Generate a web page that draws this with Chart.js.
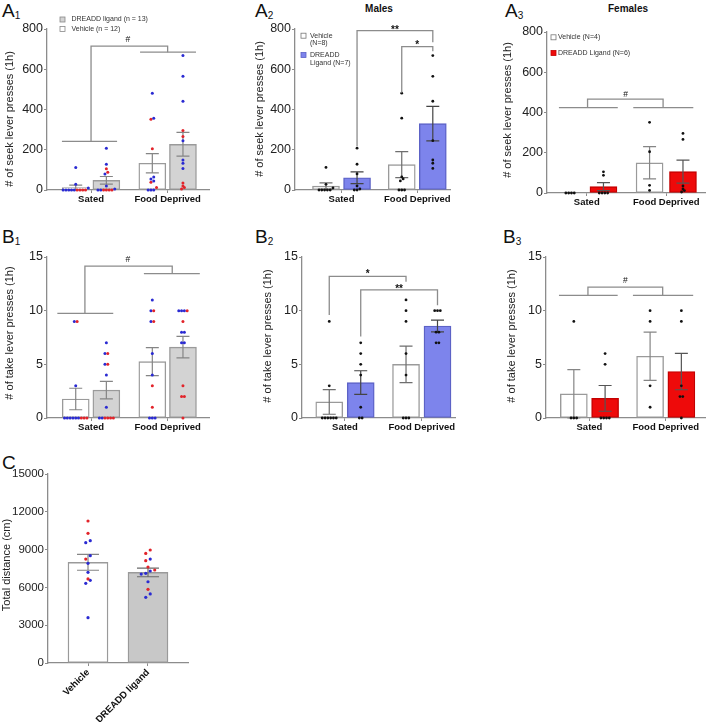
<!DOCTYPE html>
<html><head><meta charset="utf-8">
<script src="https://cdn.jsdelivr.net/npm/chart.js@4.4.0/dist/chart.umd.min.js"></script>
<style>
html,body{margin:0;padding:0;background:#fff;}
body{width:709px;height:722px;position:relative;overflow:hidden;font-family:"Liberation Sans",Arial,sans-serif;color:#111;}
.pane{position:absolute;}
.plabel{position:absolute;font-size:19px;line-height:18px;white-space:nowrap;}
.plabel .sb{font-size:10px;vertical-align:-2px;}
.ptitle{position:absolute;font-size:10px;line-height:10px;font-weight:bold;transform:translateX(-50%);white-space:nowrap;}
</style></head><body>
<div class="plabel" style="left:2px;top:2px">A<span class="sb">1</span></div>
<div class="plabel" style="left:255px;top:2px">A<span class="sb">2</span></div>
<div class="plabel" style="left:505px;top:2px">A<span class="sb">3</span></div>
<div class="plabel" style="left:2px;top:228px">B<span class="sb">1</span></div>
<div class="plabel" style="left:255px;top:228px">B<span class="sb">2</span></div>
<div class="plabel" style="left:503px;top:228px">B<span class="sb">3</span></div>
<div class="plabel" style="left:2px;top:454px">C</div>
<div class="ptitle" style="left:379px;top:4px">Males</div>
<div class="ptitle" style="left:628px;top:4px">Females</div>
<script>
// ---------------- DATA ----------------
const categories = ['Sated', 'Food Deprived'];
const cLabels = ['Vehicle', 'DREADD ligand'];

// Seek lever presses (1h), per animal (M = male, F = female)
const seekVehSatedM = [112, 28, 10, 0, 0, 0, 0, 0];
const seekVehSatedF = [0, 0, 0, 0];
const seekDrSatedM  = [208, 128, 80, 20, 5, 0, 0];
const seekDrSatedF  = [105, 88, 0, 0, 0, 0];
const seekVehFdM    = [481, 357, 65, 55, 45, 0, 0, 0];
const seekVehFdF    = [351, 205, 38, 13];
const seekDrFdM     = [668, 565, 441, 245, 149, 133, 107];
const seekDrFdF     = [296, 266, 35, 20, 12, 5];

// Take lever presses (1h), per animal
const takeVehSatedM = [9, 3, 0, 0, 0, 0, 0, 0];
const takeVehSatedF = [9, 0, 0, 0];
const takeDrSatedM  = [7, 6, 5, 4, 1, 0, 0];
const takeDrSatedF  = [6, 5, 0, 0, 0, 0];
const takeVehFdM    = [11, 10, 9, 6, 4, 0, 0, 0];
const takeVehFdF    = [10, 9, 3, 1];
const takeDrFdM     = [10, 10, 10, 8, 8, 7, 7];
const takeDrFdF     = [10, 9, 3, 2, 2, 0];

// Bar means and SEM [Sated, Food Deprived]
const a1VehMean = [12, 133],  a1VehSem = [12, 48];
const a1DrMean  = [48, 227],  a1DrSem  = [19, 59];
const a2VehMean = [19, 126],  a2VehSem = [16, 65];
const a2DrMean  = [61, 330],  a2DrSem  = [29, 86];
const a3VehMean = [0, 150],   a3VehSem = [0, 80];
const a3DrMean  = [32, 106],  a3DrSem  = [20, 57];
const b1VehMean = [1.77, 5.25], b1VehSem = [1.0, 1.3];
const b1DrMean  = [2.6, 6.6],   b1DrSem  = [0.82, 1.0];
const b2VehMean = [1.5, 5.0],   b2VehSem = [1.15, 1.7];
const b2DrMean  = [3.3, 8.57],  b2DrSem  = [1.1, 0.55];
const b3VehMean = [2.25, 5.75], b3VehSem = [2.25, 2.25];
const b3DrMean  = [1.83, 4.33], b3DrSem  = [1.2, 1.7];

// Total distance (cm)
const distVeh    = [11270, 10290, 9710, 9550, 8520, 8250, 7910, 7200, 6670, 6560, 6320, 3600];
const distVehSex = ['F','F','M','M','M','F','M','M','F','M','M','M'];
const distDr     = [8970, 8700, 8250, 8120, 7620, 7380, 7300, 7120, 7060, 6450, 5850, 5480, 5210];
const distDrSex  = ['F','F','M','F','F','F','M','M','M','M','F','M','M'];
const cMean = [7990, 7190], cSem = [630, 345];

// ---------------- STYLE ----------------
const BLUE = '#2a2ad2', RED = '#e2232a', BLACK = '#111';
const FONT = '"Liberation Sans", Arial, sans-serif';
function sexDots(M, F) { return { vals: M.concat(F), cols: M.map(() => BLUE).concat(F.map(() => RED)) }; }
function blackDots(a) { return { vals: a.slice(), cols: a.map(() => BLACK) }; }
function sexCol(vals, sex) { return { vals: vals.slice(), cols: sex.map(s => s === 'F' ? RED : BLUE) }; }

function swarm(vals, cols, center, xPx, yPx, sp) {
  const items = vals.map((v, i) => ({ v, c: cols[i], py: v * yPx }));
  items.sort((a, b) => a.v - b.v);
  const out = []; let i = 0;
  while (i < items.length) {
    let j = i;
    while (j + 1 < items.length && items[j + 1].py - items[i].py < sp * 0.95) j++;
    const n = j - i + 1;
    for (let k = 0; k < n; k++) {
      const off = (k - (n - 1) / 2) * sp;
      out.push({ x: center + off / xPx, y: items[i + k].v, c: items[i + k].c });
    }
    i = j + 1;
  }
  return out;
}

const errPlugin = {
  id: 'errbars',
  afterDatasetDraw(chart, args) {
    const ds = chart.data.datasets[args.index];
    if (!ds.errSem) return;
    const ctx = chart.ctx, xs = chart.scales.x, ys = chart.scales.y;
    ctx.save(); ctx.strokeStyle = ds.errColor; ctx.lineWidth = 1.2;
    ds.data.forEach((p, i) => {
      const s = ds.errSem[i]; if (!s) return;
      const x = xs.getPixelForValue(p.x);
      const yT = ys.getPixelForValue(p.y + s), yB = ys.getPixelForValue(Math.max(0, p.y - s));
      const cw = ds.capW / 2;
      ctx.beginPath();
      ctx.moveTo(x, yT); ctx.lineTo(x, yB);
      ctx.moveTo(x - cw, yT); ctx.lineTo(x + cw, yT);
      ctx.moveTo(x - cw, yB); ctx.lineTo(x + cw, yB);
      ctx.stroke();
    });
    ctx.restore();
  }
};

function makeOverlay(p) {
  return {
    id: 'overlay',
    afterDraw(chart) {
      const ctx = chart.ctx, xs = chart.scales.x, ys = chart.scales.y;
      const X = v => xs.getPixelForValue(v), Y = v => ys.getPixelForValue(v);
      ctx.save();
      ctx.strokeStyle = '#8c8c8c'; ctx.lineWidth = 1.3;
      (p.lines || []).forEach(([a, b, y]) => {
        ctx.beginPath(); ctx.moveTo(X(a), Y(y)); ctx.lineTo(X(b), Y(y)); ctx.stroke();
      });
      (p.brackets || []).forEach(bk => {
        ctx.strokeStyle = '#8c8c8c';
        ctx.beginPath();
        ctx.moveTo(X(bk.x1), Y(bk.y1)); ctx.lineTo(X(bk.x1), Y(bk.top));
        ctx.lineTo(X(bk.x2), Y(bk.top)); ctx.lineTo(X(bk.x2), Y(bk.y2));
        ctx.stroke();
        ctx.fillStyle = '#111';
        ctx.font = bk.label === '#' ? '8.5px ' + FONT : 'bold 10px ' + FONT;
        ctx.textAlign = 'center'; ctx.textBaseline = 'alphabetic';
        const lx = bk.lx !== undefined ? bk.lx : (bk.x1 + bk.x2) / 2;
        ctx.fillText(bk.label, X(lx), Y(bk.ly));
      });
      // y title
      ctx.save();
      ctx.translate(p.ytitle.x - p.box.x, p.ytitle.y - p.box.y);
      ctx.rotate(-Math.PI / 2);
      ctx.fillStyle = '#222'; ctx.font = '11px ' + FONT;
      ctx.textAlign = 'center'; ctx.textBaseline = 'middle';
      ctx.fillText(p.ytitle.text, 0, 0);
      ctx.restore();
      // legend
      (p.legend || []).forEach(it => {
        const sx = it.x - p.box.x, sy = it.y - p.box.y;
        ctx.fillStyle = it.fill; ctx.fillRect(sx, sy - 2.5, 5, 5);
        ctx.strokeStyle = it.border; ctx.lineWidth = 0.8; ctx.strokeRect(sx, sy - 2.5, 5, 5);
        ctx.fillStyle = '#333'; ctx.font = '7px ' + FONT;
        ctx.textAlign = 'left'; ctx.textBaseline = 'middle';
        it.lines.forEach((t, k) => ctx.fillText(t, it.tx - p.box.x, sy + k * 7.8));
      });
      ctx.restore();
    }
  };
}

function buildPanel(p) {
  const wrap = document.createElement('div');
  wrap.className = 'pane';
  Object.assign(wrap.style, { left: p.box.x + 'px', top: p.box.y + 'px', width: p.box.w + 'px', height: p.box.h + 'px' });
  const cv = document.createElement('canvas');
  cv.width = p.box.w; cv.height = p.box.h;
  cv.style.width = p.box.w + 'px'; cv.style.height = p.box.h + 'px';
  wrap.appendChild(cv); document.body.appendChild(wrap);
  const xPx = (p.area.r - p.area.l) / (p.xmax - p.xmin);
  const yPx = (p.area.b - p.area.t) / p.ymax;
  const datasets = [];
  p.series.forEach(s => {
    const xs = s.cats.map(c => c + s.off * p.d);
    datasets.push({
      type: 'bar', data: xs.map((x, i) => ({ x, y: s.mean[i] })), grouped: false,
      barThickness: p.barW, backgroundColor: s.fill, borderColor: s.border, borderWidth: 1.4,
      borderSkipped: false, order: 2, clip: false, errSem: s.sem, errColor: s.errColor, capW: p.capW
    });
    xs.forEach((x, i) => {
      const dd = s.dots[i];
      const pts = swarm(dd.vals, dd.cols, x, xPx, yPx, p.spacing);
      datasets.push({
        type: 'scatter', data: pts.map(q => ({ x: q.x, y: q.y })),
        pointBackgroundColor: pts.map(q => q.c), pointBorderWidth: 0,
        pointRadius: p.dotR, pointHoverRadius: p.dotR, order: 1, clip: false
      });
    });
  });
  new Chart(cv, {
    type: 'bar',
    data: { datasets },
    options: {
      responsive: false, animation: false, devicePixelRatio: 1,
      events: [],
      layout: { padding: { left: 0, top: p.area.t - p.box.y, right: p.box.x + p.box.w - p.area.r, bottom: 0 } },
      plugins: { legend: { display: false }, tooltip: { enabled: false }, title: { display: false } },
      scales: {
        x: {
          type: 'linear', min: p.xmin, max: p.xmax, offset: false,
          afterBuildTicks: s => { s.ticks = p.labels.map((_, i) => ({ value: i })); },
          afterFit: s => { s.height = p.box.y + p.box.h - p.area.b; },
          grid: { display: true, offset: false, drawOnChartArea: false, drawTicks: true, tickLength: 3, color: '#8c8c8c' },
          border: { display: true, color: '#8c8c8c', width: 1.3 },
          ticks: {
            callback: (v, i) => p.labels[i], autoSkip: false,
            maxRotation: p.rot, minRotation: p.rot, padding: 1,
            color: '#111', font: { family: FONT, size: 9.5, weight: 'bold' }
          }
        },
        y: {
          type: 'linear', min: 0, max: p.ymax,
          afterFit: s => { s.width = p.area.l - p.box.x; },
          grid: { display: true, drawOnChartArea: false, drawTicks: true, tickLength: 3, color: '#8c8c8c' },
          border: { display: true, color: '#8c8c8c', width: 1.3 },
          ticks: {
            stepSize: p.ystep, padding: 1, color: '#222', callback: v => String(v),
            font: { family: FONT, size: p.tickSize }
          }
        }
      }
    },
    plugins: [errPlugin, makeOverlay(p)]
  });
}

const GREYB = '#9a9a9a';
const panels = [
  { // A1
    box: { x: 0, y: 0, w: 225, h: 215 }, area: { l: 47, t: 29, r: 209, b: 190 },
    ymax: 800, ystep: 200, xmin: -0.575, xmax: 1.54, d: 0.2, barW: 27, capW: 13, dotR: 1.5, spacing: 2.8,
    labels: categories, rot: 0, tickSize: 12.5,
    ytitle: { text: '# of seek lever presses (1h)', x: 10, y: 119 },
    series: [
      { cats: [0, 1], off: -1, fill: '#ffffff', border: GREYB, errColor: '#858585', mean: a1VehMean, sem: a1VehSem,
        dots: [sexDots(seekVehSatedM, seekVehSatedF), sexDots(seekVehFdM, seekVehFdF)] },
      { cats: [0, 1], off: 1, fill: '#d3d3d3', border: GREYB, errColor: '#858585', mean: a1DrMean, sem: a1DrSem,
        dots: [sexDots(seekDrSatedM, seekDrSatedF), sexDots(seekDrFdM, seekDrFdF)] }
    ],
    lines: [[-0.38, 0.34, 242], [0.64, 1.37, 685]],
    brackets: [{ x1: 0, y1: 242, x2: 1, y2: 685, top: 715, label: '#', ly: 734, lx: 0.48 }],
    legend: [
      { x: 60, y: 19.5, tx: 71.5, fill: '#d3d3d3', border: '#888', lines: ['DREADD ligand (n = 13)'] },
      { x: 60, y: 29, tx: 71.5, fill: '#ffffff', border: '#888', lines: ['Vehicle (n = 12)'] }
    ]
  },
  { // A2
    box: { x: 236, y: 0, w: 229, h: 215 }, area: { l: 295, t: 29, r: 450, b: 190 },
    ymax: 800, ystep: 200, xmin: -0.614, xmax: 1.432, d: 0.205, barW: 27, capW: 13, dotR: 1.4, spacing: 2.8,
    labels: categories, rot: 0, tickSize: 12.5,
    ytitle: { text: '# of seek lever presses (1h)', x: 260, y: 109 },
    series: [
      { cats: [0, 1], off: -1, fill: '#ffffff', border: GREYB, errColor: '#6e6e6e', mean: a2VehMean, sem: a2VehSem,
        dots: [blackDots(seekVehSatedM), blackDots(seekVehFdM)] },
      { cats: [0, 1], off: 1, fill: '#7d84ec', border: '#5c62c6', errColor: '#444', mean: a2DrMean, sem: a2DrSem,
        dots: [blackDots(seekDrSatedM), blackDots(seekDrFdM)] }
    ],
    brackets: [
      { x1: 0.205, y1: 218, x2: 1.205, y2: 734, top: 792, label: '**', ly: 779 },
      { x1: 0.795, y1: 483, x2: 1.205, y2: 690, top: 712, label: '*', ly: 705 }
    ],
    legend: [
      { x: 301, y: 35.7, tx: 310, fill: '#ffffff', border: '#777', lines: ['Vehicle', '(N=8)'] },
      { x: 301, y: 55, tx: 310, fill: '#7d84ec', border: '#5c62c6', lines: ['DREADD', 'Ligand (N=7)'] }
    ]
  },
  { // A3
    box: { x: 480, y: 0, w: 229, h: 215 }, area: { l: 547, t: 32, r: 705, b: 193 },
    ymax: 800, ystep: 200, xmin: -0.5, xmax: 1.487, d: 0.21, barW: 27, capW: 13, dotR: 1.4, spacing: 2.8,
    labels: categories, rot: 0, tickSize: 12.5,
    ytitle: { text: '# of seek lever presses (1h)', x: 508, y: 110 },
    series: [
      { cats: [0, 1], off: -1, fill: '#ffffff', border: GREYB, errColor: '#858585', mean: a3VehMean, sem: a3VehSem,
        dots: [blackDots(seekVehSatedF), blackDots(seekVehFdF)] },
      { cats: [0, 1], off: 1, fill: '#ee0a0a', border: '#c40000', errColor: '#555', mean: a3DrMean, sem: a3DrSem,
        dots: [blackDots(seekDrSatedF), blackDots(seekDrFdF)] }
    ],
    lines: [[-0.35, 0.39, 424], [0.585, 1.34, 424]],
    brackets: [{ x1: 0.01, y1: 424, x2: 0.96, y2: 424, top: 466, label: '#', ly: 479, lx: 0.49 }],
    legend: [
      { x: 551, y: 37.3, tx: 558, fill: '#ffffff', border: '#777', lines: ['Vehicle (N=4)'] },
      { x: 551, y: 53, tx: 558, fill: '#ee0a0a', border: '#c40000', lines: ['DREADD Ligand (N=6)'] }
    ]
  },
  { // B1
    box: { x: 0, y: 222, w: 225, h: 220 }, area: { l: 47, t: 257, r: 209, b: 418 },
    ymax: 15, ystep: 5, xmin: -0.575, xmax: 1.54, d: 0.2, barW: 27, capW: 13, dotR: 1.5, spacing: 2.8,
    labels: categories, rot: 0, tickSize: 12.5,
    ytitle: { text: '# of take lever presses (1h)', x: 10, y: 333 },
    series: [
      { cats: [0, 1], off: -1, fill: '#ffffff', border: GREYB, errColor: '#858585', mean: b1VehMean, sem: b1VehSem,
        dots: [sexDots(takeVehSatedM, takeVehSatedF), sexDots(takeVehFdM, takeVehFdF)] },
      { cats: [0, 1], off: 1, fill: '#d3d3d3', border: GREYB, errColor: '#858585', mean: b1DrMean, sem: b1DrSem,
        dots: [sexDots(takeDrSatedM, takeDrSatedF), sexDots(takeDrFdM, takeDrFdF)] }
    ],
    lines: [[-0.44, 0.29, 9.75], [0.69, 1.42, 13.45]],
    brackets: [{ x1: -0.08, y1: 9.75, x2: 1.06, y2: 13.45, top: 14.15, label: '#', ly: 14.56, lx: 0.48 }]
  },
  { // B2
    box: { x: 236, y: 222, w: 229, h: 220 }, area: { l: 302, t: 257, r: 455, b: 418 },
    ymax: 15, ystep: 5, xmin: -0.56, xmax: 1.433, d: 0.205, barW: 27, capW: 13, dotR: 1.4, spacing: 2.8,
    labels: categories, rot: 0, tickSize: 12.5,
    ytitle: { text: '# of take lever presses (1h)', x: 268, y: 336 },
    series: [
      { cats: [0, 1], off: -1, fill: '#ffffff', border: GREYB, errColor: '#6e6e6e', mean: b2VehMean, sem: b2VehSem,
        dots: [blackDots(takeVehSatedM), blackDots(takeVehFdM)] },
      { cats: [0, 1], off: 1, fill: '#7d84ec', border: '#5c62c6', errColor: '#444', mean: b2DrMean, sem: b2DrSem,
        dots: [blackDots(takeDrSatedM), blackDots(takeDrFdM)] }
    ],
    brackets: [
      { x1: -0.205, y1: 9.6, x2: 0.795, y2: 12.7, top: 13.2, label: '*', ly: 13.1 },
      { x1: 0.205, y1: 7.6, x2: 1.205, y2: 10.5, top: 11.93, label: '**', ly: 11.7 }
    ]
  },
  { // B3
    box: { x: 480, y: 222, w: 229, h: 220 }, area: { l: 546, t: 257, r: 705, b: 418 },
    ymax: 15, ystep: 5, xmin: -0.57, xmax: 1.515, d: 0.205, barW: 27, capW: 13, dotR: 1.4, spacing: 2.8,
    labels: categories, rot: 0, tickSize: 12.5,
    ytitle: { text: '# of take lever presses (1h)', x: 512, y: 336 },
    series: [
      { cats: [0, 1], off: -1, fill: '#ffffff', border: GREYB, errColor: '#858585', mean: b3VehMean, sem: b3VehSem,
        dots: [blackDots(takeVehSatedF), blackDots(takeVehFdF)] },
      { cats: [0, 1], off: 1, fill: '#ee0a0a', border: '#c40000', errColor: '#555', mean: b3DrMean, sem: b3DrSem,
        dots: [blackDots(takeDrSatedF), blackDots(takeDrFdF)] }
    ],
    lines: [[-0.4, 0.37, 11.43], [0.57, 1.36, 11.43]],
    brackets: [{ x1: -0.02, y1: 11.43, x2: 0.96, y2: 11.43, top: 12.2, label: '#', ly: 12.55, lx: 0.47 }]
  },
  { // C
    box: { x: 0, y: 450, w: 230, h: 272 }, area: { l: 48, t: 474, r: 188, b: 663 },
    ymax: 15000, ystep: 3000, xmin: -0.667, xmax: 1.667, d: 0, barW: 40, capW: 22, dotR: 1.6, spacing: 4.5,
    labels: cLabels, rot: 45, tickSize: 11.5,
    ytitle: { text: 'Total distance (cm)', x: 7, y: 565 },
    series: [
      { cats: [0], off: 0, fill: '#ffffff', border: GREYB, errColor: '#858585', mean: [cMean[0]], sem: [cSem[0]],
        dots: [sexCol(distVeh, distVehSex)] },
      { cats: [1], off: 0, fill: '#c8c8c8', border: GREYB, errColor: '#6a6a6a', mean: [cMean[1]], sem: [cSem[1]],
        dots: [sexCol(distDr, distDrSex)] }
    ]
  }
];
panels.forEach(buildPanel);
</script>
</body></html>
